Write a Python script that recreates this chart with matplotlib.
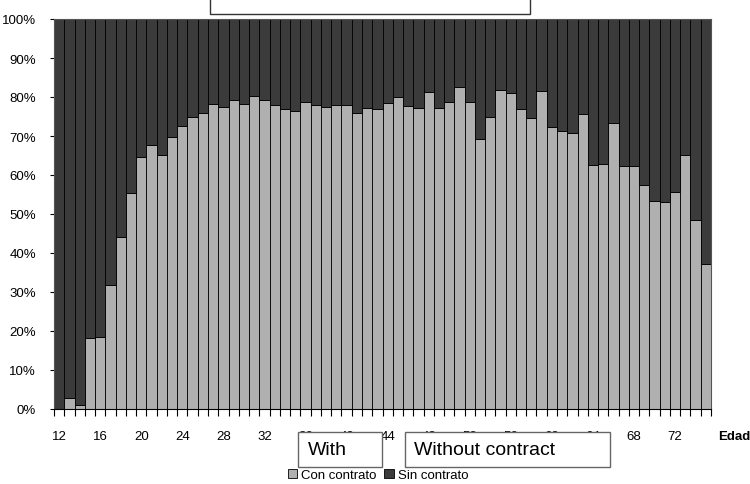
import matplotlib.pyplot as plt
from matplotlib.patches import Rectangle
import numpy as np

# Edades (eje X) y porcentajes
edades = np.arange(12, 76)
con_contrato = [0.0, 2.7, 1.0, 18.1, 18.4, 31.8, 44.2, 55.3,
                64.7, 67.7, 65.1, 69.7, 72.5, 75.0, 75.9, 78.2,
                77.5, 79.2, 78.2, 80.2, 79.2, 77.9, 76.9, 76.3,
                78.6, 78.0, 77.4, 78.0, 78.0, 75.9, 77.2, 76.8,
                78.4, 79.9, 77.6, 77.2, 81.2, 77.2, 78.6, 82.5,
                78.6, 69.2, 74.8, 81.9, 81.0, 76.9, 74.5, 81.6,
                72.2, 71.2, 70.8, 75.6, 62.6, 62.8, 73.3, 62.4,
                62.2, 57.4, 53.4, 53.2, 55.6, 65.1, 48.5, 37.1]
sin_contrato = [100.0, 97.3, 99.0, 81.9, 81.6, 68.2, 55.8, 44.7,
                35.3, 32.3, 34.9, 30.3, 27.5, 25.0, 24.1, 21.8,
                22.5, 20.8, 21.8, 19.8, 20.8, 22.1, 23.1, 23.7,
                21.4, 22.0, 22.6, 22.0, 22.0, 24.1, 22.8, 23.2,
                21.6, 20.1, 22.4, 22.8, 18.8, 22.8, 21.4, 17.5,
                21.4, 30.8, 25.2, 18.1, 19.0, 23.1, 25.5, 18.4,
                27.8, 28.8, 29.2, 24.4, 37.4, 37.2, 26.7, 37.6,
                37.8, 42.6, 46.6, 46.8, 44.4, 34.9, 51.5, 62.9]
etiquetas_x = edades[::4]
etiquetas_y = [f"{v}%" for v in range(0, 101, 10)]

W, H = 750, 485
fig = plt.figure(figsize=(7.5, 4.85), dpi=100)
ax = fig.add_axes([54 / W, 75 / H, (711 - 54) / W, (410 - 20) / H])

claro = "#b0b0b0"
oscuro = "#3b3b3b"
b1 = ax.bar(edades, con_contrato, width=1.0, color=claro, edgecolor="black",
            linewidth=0.6, label="Con contrato")
b2 = ax.bar(edades, sin_contrato, width=1.0, bottom=con_contrato, color=oscuro,
            edgecolor="black", linewidth=0.6, label="Sin contrato")

ax.set_xlim(edades[0] - 0.5, edades[-1] + 0.5)
ax.set_ylim(0, 100)
ax.set_yticks(range(0, 101, 10))
ax.set_yticklabels(etiquetas_y, family="Liberation Sans", fontsize=9.5)
ax.tick_params(axis="y", length=3, width=0.8, pad=10)
ax.set_xticks(etiquetas_x)
ax.set_xticklabels([str(e) for e in etiquetas_x], family="Liberation Sans", fontsize=9.5)
ax.tick_params(axis="x", length=0, pad=15)
ax.set_xticks(np.append(edades - 0.5, edades[-1] + 0.5), minor=True)
ax.tick_params(axis="x", which="minor", length=5, width=0.8, direction="out")
for s in ax.spines.values():
    s.set_color("#555555")
    s.set_linewidth(0.8)
ax.spines["bottom"].set_color("black")

fig.text(718 / W, 1 - 437 / H, "Edad", fontsize=9.5, fontweight="bold",
         family="Liberation Sans", va="center")

# recuadros
fig.patches.append(Rectangle((210 / W, 1 - 15 / H), 320 / W, 30 / H,
                             transform=fig.transFigure, facecolor="white",
                             edgecolor="#333333", linewidth=1))
fig.patches.append(Rectangle((298 / W, 1 - 468 / H), 84 / W, 35 / H,
                             transform=fig.transFigure, facecolor="white",
                             edgecolor="#666666", linewidth=1))
fig.patches.append(Rectangle((405 / W, 1 - 468 / H), 205 / W, 35 / H,
                             transform=fig.transFigure, facecolor="white",
                             edgecolor="#666666", linewidth=1))
fig.text(308 / W, 1 - 451 / H, "With", fontsize=14, family="Liberation Sans",
         va="center")
fig.text(414 / W, 1 - 451 / H, "Without contract", fontsize=14,
         family="Liberation Sans", va="center")

fig.legend(handles=[b1, b2], loc="center", bbox_to_anchor=(378 / W, 1 - 476 / H),
           ncol=2, frameon=False, handlelength=0.7, handleheight=0.7,
           handletextpad=0.3, columnspacing=0.6, borderpad=0,
           prop={"family": "Liberation Sans", "size": 9.5})

fig.savefig("out.png", dpi=100)
